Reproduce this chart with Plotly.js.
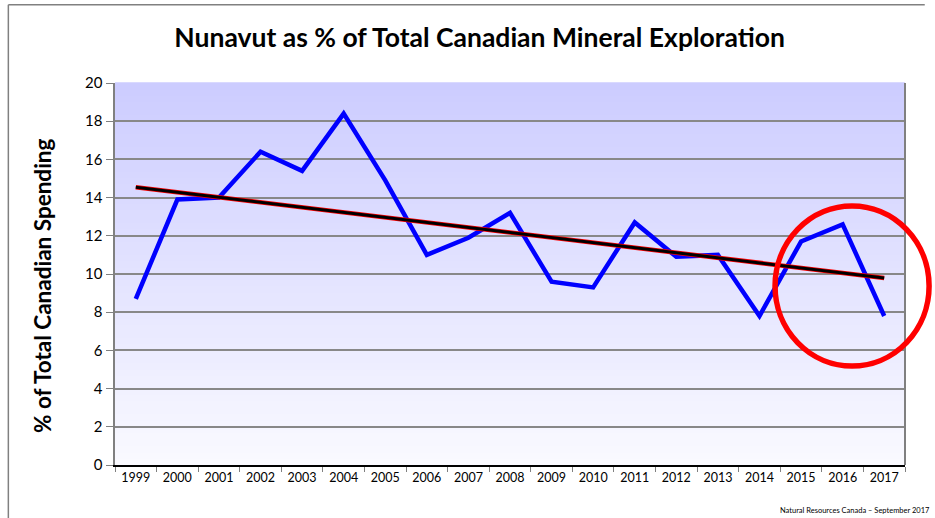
<!DOCTYPE html>
<html><head><meta charset="utf-8">
<script src="https://cdn.plot.ly/plotly-3.0.1.min.js"></script>
<style>html,body{margin:0;padding:0;background:#fff}#c{width:935px;height:518px}</style>
</head><body><div id="c"></div>
<script>
var years = ['1999','2000','2001','2002','2003','2004','2005','2006','2007','2008','2009','2010','2011','2012','2013','2014','2015','2016','2017'];
var nunavutPct = [8.7,13.9,14.0,16.4,15.4,18.4,14.9,11.0,11.9,13.2,9.6,9.3,12.7,10.9,11.0,7.8,11.7,12.6,7.8];
var yTicks = [0,2,4,6,8,10,12,14,16,18,20];

// linear trend from data
var n = nunavutPct.length, sx=0, sy=0, sxx=0, sxy=0;
for (var i=0;i<n;i++){sx+=i;sy+=nunavutPct[i];sxx+=i*i;sxy+=i*nunavutPct[i];}
var slope=(n*sxy-sx*sy)/(n*sxx-sx*sx), icpt=(sy-slope*sx)/n;
var trend = years.map(function(_,i){return icpt+slope*i;});

var shapes = [];
var bands = 60;
for (var b=0;b<bands;b++){
  var t = b/bands; // 0 bottom
  var r = Math.round(250 - (250-204)*(t+0.5/bands));
  var col = 'rgb('+r+','+r+',255)';
  shapes.push({type:'rect',xref:'paper',yref:'paper',x0:0,x1:1,y0:t,y1:t+1/bands+0.002,fillcolor:col,line:{width:0},layer:'below'});
}
// frame
shapes.push({type:'line',xref:'paper',yref:'paper',x0:-0.135,x1:1.025,y0:1.205,y1:1.205,line:{color:'#808080',width:1.5}});
shapes.push({type:'line',xref:'paper',yref:'paper',x0:-0.135,x1:-0.135,y0:1.205,y1:-0.15,line:{color:'#808080',width:1.5}});
// right border of plot
shapes.push({type:'line',xref:'paper',yref:'paper',x0:1,x1:1,y0:0,y1:1,line:{color:'#808080',width:2}});
// red circle (paper coords so it is not clipped)
shapes.push({type:'circle',xref:'paper',yref:'paper',x0:0.8355,x1:1.0305,y0:0.2592,y1:0.678,line:{color:'#ff0000',width:5.5},fillcolor:'rgba(0,0,0,0)'});

var data = [
  {x:years,y:nunavutPct,type:'scatter',mode:'lines',line:{color:'#0000ff',width:4.5},hoverinfo:'skip'},
  {x:years,y:trend,type:'scatter',mode:'lines',line:{color:'#ff0000',width:4.5},hoverinfo:'skip'},
  {x:years,y:trend,type:'scatter',mode:'lines',line:{color:'#000000',width:3},hoverinfo:'skip'}
];
var layout = {
  width:935,height:518,
  margin:{l:115,r:30,t:83,b:53},
  paper_bgcolor:'#ffffff',plot_bgcolor:'rgba(0,0,0,0)',
  showlegend:false,
  title:{text:'<b>Nunavut as % of Total Canadian Mineral Exploration</b>',x:0.513,xanchor:'center',y:0.928,yanchor:'middle',font:{family:'Lato, sans-serif',size:26.5,color:'#000'}},
  xaxis:{type:'category',range:[-0.5,18.5],showgrid:false,tickmode:'array',tickvals:years,ticktext:years,
    ticks:'outside',ticklen:5,tickcolor:'#808080',tickson:'boundaries',
    showline:true,linecolor:'#000',linewidth:2,
    tickfont:{family:'Lato, sans-serif',size:12.5,color:'#000'},zeroline:false},
  yaxis:{range:[0,20],tickvals:yTicks,showgrid:true,gridcolor:'#888888',gridwidth:2,
    ticks:'outside',ticklen:7,tickcolor:'#808080',showline:true,linecolor:'#808080',linewidth:2.5,zeroline:false,
    tickfont:{family:'Lato, sans-serif',size:15,color:'#000'}},
  shapes:shapes,
  annotations:[
    {text:'<b>% of Total Canadian Spending</b>',xref:'paper',yref:'paper',x:-0.0911,y:0.4686,xanchor:'center',yanchor:'middle',textangle:-90,showarrow:false,font:{family:'Lato, sans-serif',size:22.5,color:'#000'}},
    {text:'Natural Resources Canada – September 2017',xref:'paper',yref:'paper',x:1.034,y:-0.12,xanchor:'right',yanchor:'middle',showarrow:false,font:{family:'Lato, sans-serif',size:7.5,color:'#000'}}]
};
Plotly.newPlot('c',data,layout,{staticPlot:true});
</script></body></html>
